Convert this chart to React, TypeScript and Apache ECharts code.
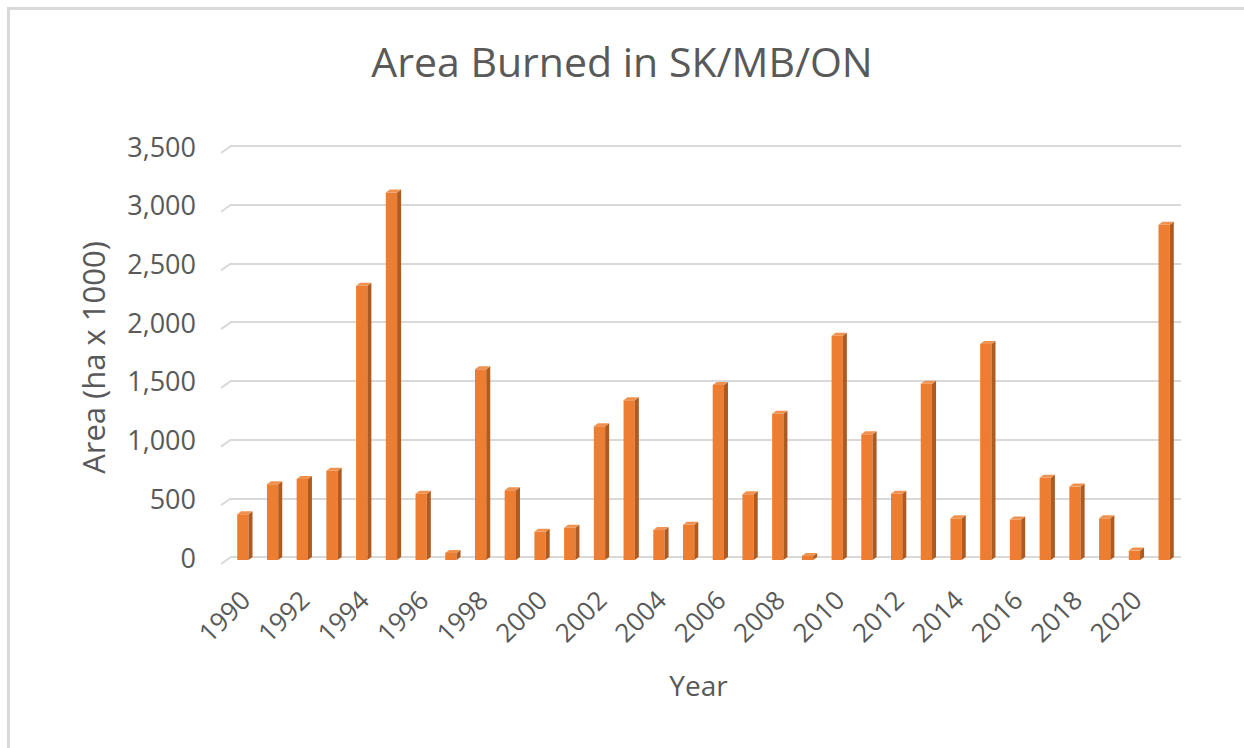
import React, { useEffect, useRef } from "react";
import * as echarts from "echarts";

const years = [
  "1990", "1991", "1992", "1993", "1994", "1995", "1996", "1997", "1998", "1999",
  "2000", "2001", "2002", "2003", "2004", "2005", "2006", "2007", "2008", "2009",
  "2010", "2011", "2012", "2013", "2014", "2015", "2016", "2017", "2018", "2019",
  "2020", "2021",
];
const areas = [
  390, 645, 690, 760, 2335, 3130, 565, 60, 1625, 595,
  240, 275, 1140, 1360, 255, 300, 1490, 560, 1245, 35,
  1910, 1070, 565, 1500, 355, 1840, 345, 700, 625, 355,
  80, 2855,
];
const yTicks = { min: 0, max: 3500, interval: 500 };

const FONT = "'Open Sans', 'Noto Sans', sans-serif";
const TEXT = "#595959";
const GRID = "#d9d9d9";
const GRID_LEFT = 230;

export default function App() {
  const ref = useRef<HTMLDivElement>(null);
  useEffect(() => {
    if (!ref.current) return;
    const chart = echarts.init(ref.current, undefined, { renderer: "svg" });
    const dx = 4;
    const dy = 3;
    const frame = [
      { type: "rect", shape: { x: 7, y: 7, width: 1237, height: 3 }, style: { fill: GRID }, silent: true },
      { type: "rect", shape: { x: 7, y: 7, width: 3, height: 741 }, style: { fill: GRID }, silent: true },
    ];
    chart.setOption({
      animation: false,
      backgroundColor: "#ffffff",
      title: {
        text: "Area Burned in SK/MB/ON",
        left: "center",
        top: 35,
        textStyle: { fontSize: 41, fontWeight: "normal", color: TEXT, fontFamily: FONT },
      },
      graphic: frame,
      grid: { left: GRID_LEFT, right: 63, top: 146, bottom: 191 },
      xAxis: {
        type: "category",
        data: years,
        name: "Year",
        nameLocation: "middle",
        nameGap: 114,
        nameTextStyle: { fontSize: 28, color: TEXT, fontFamily: FONT, padding: [0, 14, 0, 0] },
        axisTick: { show: false },
        axisLine: { show: false },
        axisLabel: {
          interval: 1,
          rotate: 45,
          margin: 38,
          fontSize: 26,
          color: TEXT,
          fontFamily: FONT,
        },
      },
      yAxis: {
        type: "value",
        min: yTicks.min,
        max: yTicks.max,
        interval: yTicks.interval,
        name: "Area (ha x 1000)",
        nameLocation: "middle",
        nameGap: 122,
        nameTextStyle: { fontSize: 31, color: TEXT, fontFamily: FONT, padding: [0, 12, 0, 0] },
        axisLine: { show: false },
        axisTick: { show: false },
        splitLine: { lineStyle: { color: GRID, width: 2 } },
        axisLabel: {
          margin: 34,
          fontSize: 27,
          color: TEXT,
          fontFamily: FONT,
          formatter: (v: number) => v.toLocaleString("en-US"),
        },
      },
      series: [
        {
          type: "custom",
          data: areas.map((v, i) => [i, v]),
          encode: { x: 0, y: 1 },
          renderItem: (params: any, api: any) => {
            const top = api.coord([api.value(0), api.value(1)]);
            const base = api.coord([api.value(0), 0]);
            const band = api.size([1, 0])[0];
            const bw = band * 0.38;
            const fl = top[0] - (bw + dx) / 2;
            const fr = fl + bw;
            const ft = top[1] + dy;
            const fb = base[1] + dy;
            return {
              type: "group",
              children: [
                {
                  type: "rect",
                  shape: { x: fl, y: ft, width: bw, height: Math.max(fb - ft, 0) },
                  style: { fill: "#ed7d31" },
                },
                {
                  type: "polygon",
                  shape: { points: [[fr, ft], [fr + dx, ft - dy], [fr + dx, fb - dy], [fr, fb]] },
                  style: { fill: "#ae5a21" },
                },
                {
                  type: "polygon",
                  shape: { points: [[fl, ft], [fl + dx, ft - dy], [fr + dx, ft - dy], [fr, ft]] },
                  style: { fill: "#f0924f" },
                },
              ],
            };
          },
        },
      ],
    });
    // perspective "floor" slants at the left end of each gridline, placed via the y axis scale
    const slants: any[] = [];
    for (let v = yTicks.min; v <= yTicks.max; v += yTicks.interval) {
      const py = chart.convertToPixel({ yAxisIndex: 0 }, v) as number;
      slants.push({
        type: "line",
        silent: true,
        z: -1,
        shape: { x1: GRID_LEFT - 9, y1: py + 7, x2: GRID_LEFT + 1, y2: py },
        style: { stroke: GRID, lineWidth: 2 },
      });
    }
    chart.setOption({ graphic: [...frame, ...slants] });
    return () => chart.dispose();
  }, []);
  return (
    <div
      ref={ref}
      style={{ position: "fixed", left: 0, top: 0, width: 1244, height: 748, background: "#fff" }}
    />
  );
}
